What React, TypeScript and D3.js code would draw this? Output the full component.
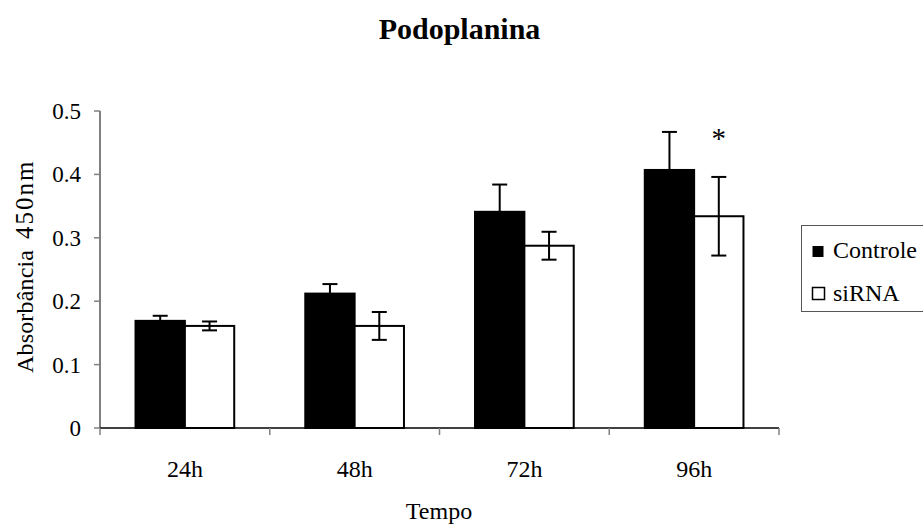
import React from "react";
import * as d3 from "d3";

const categories = ["24h", "48h", "72h", "96h"];
const seriesNames = ["Controle", "siRNA"];
const controleValues = [0.169, 0.212, 0.341, 0.407];
const controleErrors = [0.008, 0.015, 0.043, 0.060];
const sirnaValues = [0.161, 0.161, 0.2875, 0.334];
const sirnaErrors = [0.007, 0.022, 0.022, 0.062];
const yTicks = [0, 0.1, 0.2, 0.3, 0.4, 0.5];
const yTickLabels = ["0", "0.1", "0.2", "0.3", "0.4", "0.5"];
const significance = ["", "", "", "*"];

const W = 923;
const H = 527;
const FONT = "'Liberation Serif', 'Times New Roman', serif";

export default function App() {
  const x0 = d3.scaleBand<string>().domain(categories).range([100, 779]).paddingInner(0).paddingOuter(0);
  const x1 = d3.scaleBand<string>().domain(seriesNames).range([0, x0.bandwidth()]).paddingInner(0).paddingOuter(0.72);
  const y = d3.scaleLinear().domain([0, 0.5]).range([428, 111]);

  const series = [
    { name: seriesNames[0], values: controleValues, errors: controleErrors, fill: "#000" },
    { name: seriesNames[1], values: sirnaValues, errors: sirnaErrors, fill: "#fff" },
  ];
  const capHalf = 7.5;

  return (
    <svg width={W} height={H} style={{ position: "absolute", left: 0, top: 0, background: "#fff" }} fontFamily={FONT}>
      <defs>
        <clipPath id="ylabclip">
          <rect x={0} y={156} width={60} height={300} />
        </clipPath>
      </defs>
      <text x={459.5} y={39} textAnchor="middle" fontSize={30} fontWeight="bold">Podoplanina</text>

      {series.map((s) =>
        categories.map((c, i) => {
          const bx = x0(c)! + x1(s.name)!;
          const bw = x1.bandwidth();
          return (
            <rect key={s.name + c} x={bx} y={y(s.values[i])} width={bw} height={y(0) - y(s.values[i])}
              fill={s.fill} stroke="#000" strokeWidth={2} />
          );
        })
      )}
      {series.map((s) =>
        categories.map((c, i) => {
          const cx = x0(c)! + x1(s.name)! + x1.bandwidth() / 2;
          const hi = y(s.values[i] + s.errors[i]);
          const lo = y(s.values[i] - s.errors[i]);
          return (
            <g key={"e" + s.name + c} stroke="#000" strokeWidth={2}>
              <line x1={cx} x2={cx} y1={hi} y2={lo} />
              <line x1={cx - capHalf} x2={cx + capHalf} y1={hi} y2={hi} />
              <line x1={cx - capHalf} x2={cx + capHalf} y1={lo} y2={lo} />
            </g>
          );
        })
      )}
      {categories.map((c, i) =>
        significance[i] ? (
          <text key={"s" + c} x={x0(c)! + x1(seriesNames[1])! + x1.bandwidth() / 2}
            y={y(sirnaValues[i] + sirnaErrors[i]) - 29} textAnchor="middle" fontSize={29}>{significance[i]}</text>
        ) : null
      )}

      <line x1={100} x2={100} y1={y(0.5)} y2={y(0)} stroke="#808080" strokeWidth={2} />
      {yTicks.map((t, i) => (
        <g key={"yt" + t}>
          <line x1={94} x2={100} y1={y(t)} y2={y(t)} stroke="#808080" strokeWidth={1.5} />
          <text x={81} y={y(t) + 8} textAnchor="end" fontSize={23}>{yTickLabels[i]}</text>
        </g>
      ))}
      <line x1={100} x2={779} y1={y(0)} y2={y(0)} stroke="#000" strokeWidth={1.5} />
      {[...categories.map((c) => x0(c)!), 779].map((tx, i) => (
        <line key={"xt" + i} x1={tx} x2={tx} y1={y(0)} y2={y(0) + 7} stroke="#808080" strokeWidth={1.5} />
      ))}
      {categories.map((c) => (
        <text key={"xl" + c} x={x0(c)! + x0.bandwidth() / 2} y={477} textAnchor="middle" fontSize={24}>{c}</text>
      ))}
      <text x={439} y={519} textAnchor="middle" fontSize={24}>Tempo</text>

      <g clipPath="url(#ylabclip)">
        <text transform="translate(33,373) rotate(-90)" fontSize={24} textLength={123} lengthAdjust="spacing">Absorbância</text>
        <text transform="translate(33,239) rotate(-90)" fontSize={25} letterSpacing={2}>450nm</text>
      </g>

      <rect x={801.5} y={225.5} width={140} height={86} fill="#fff" stroke="#555" strokeWidth={1} />
      <rect x={812.5} y={246} width={11} height={11} fill="#000" />
      <text x={833} y={258} fontSize={24}>{seriesNames[0]}</text>
      <rect x={812.5} y={287.5} width={12} height={12} fill="#fff" stroke="#000" strokeWidth={1.5} />
      <text x={833} y={301} fontSize={24}>{seriesNames[1]}</text>
    </svg>
  );
}
